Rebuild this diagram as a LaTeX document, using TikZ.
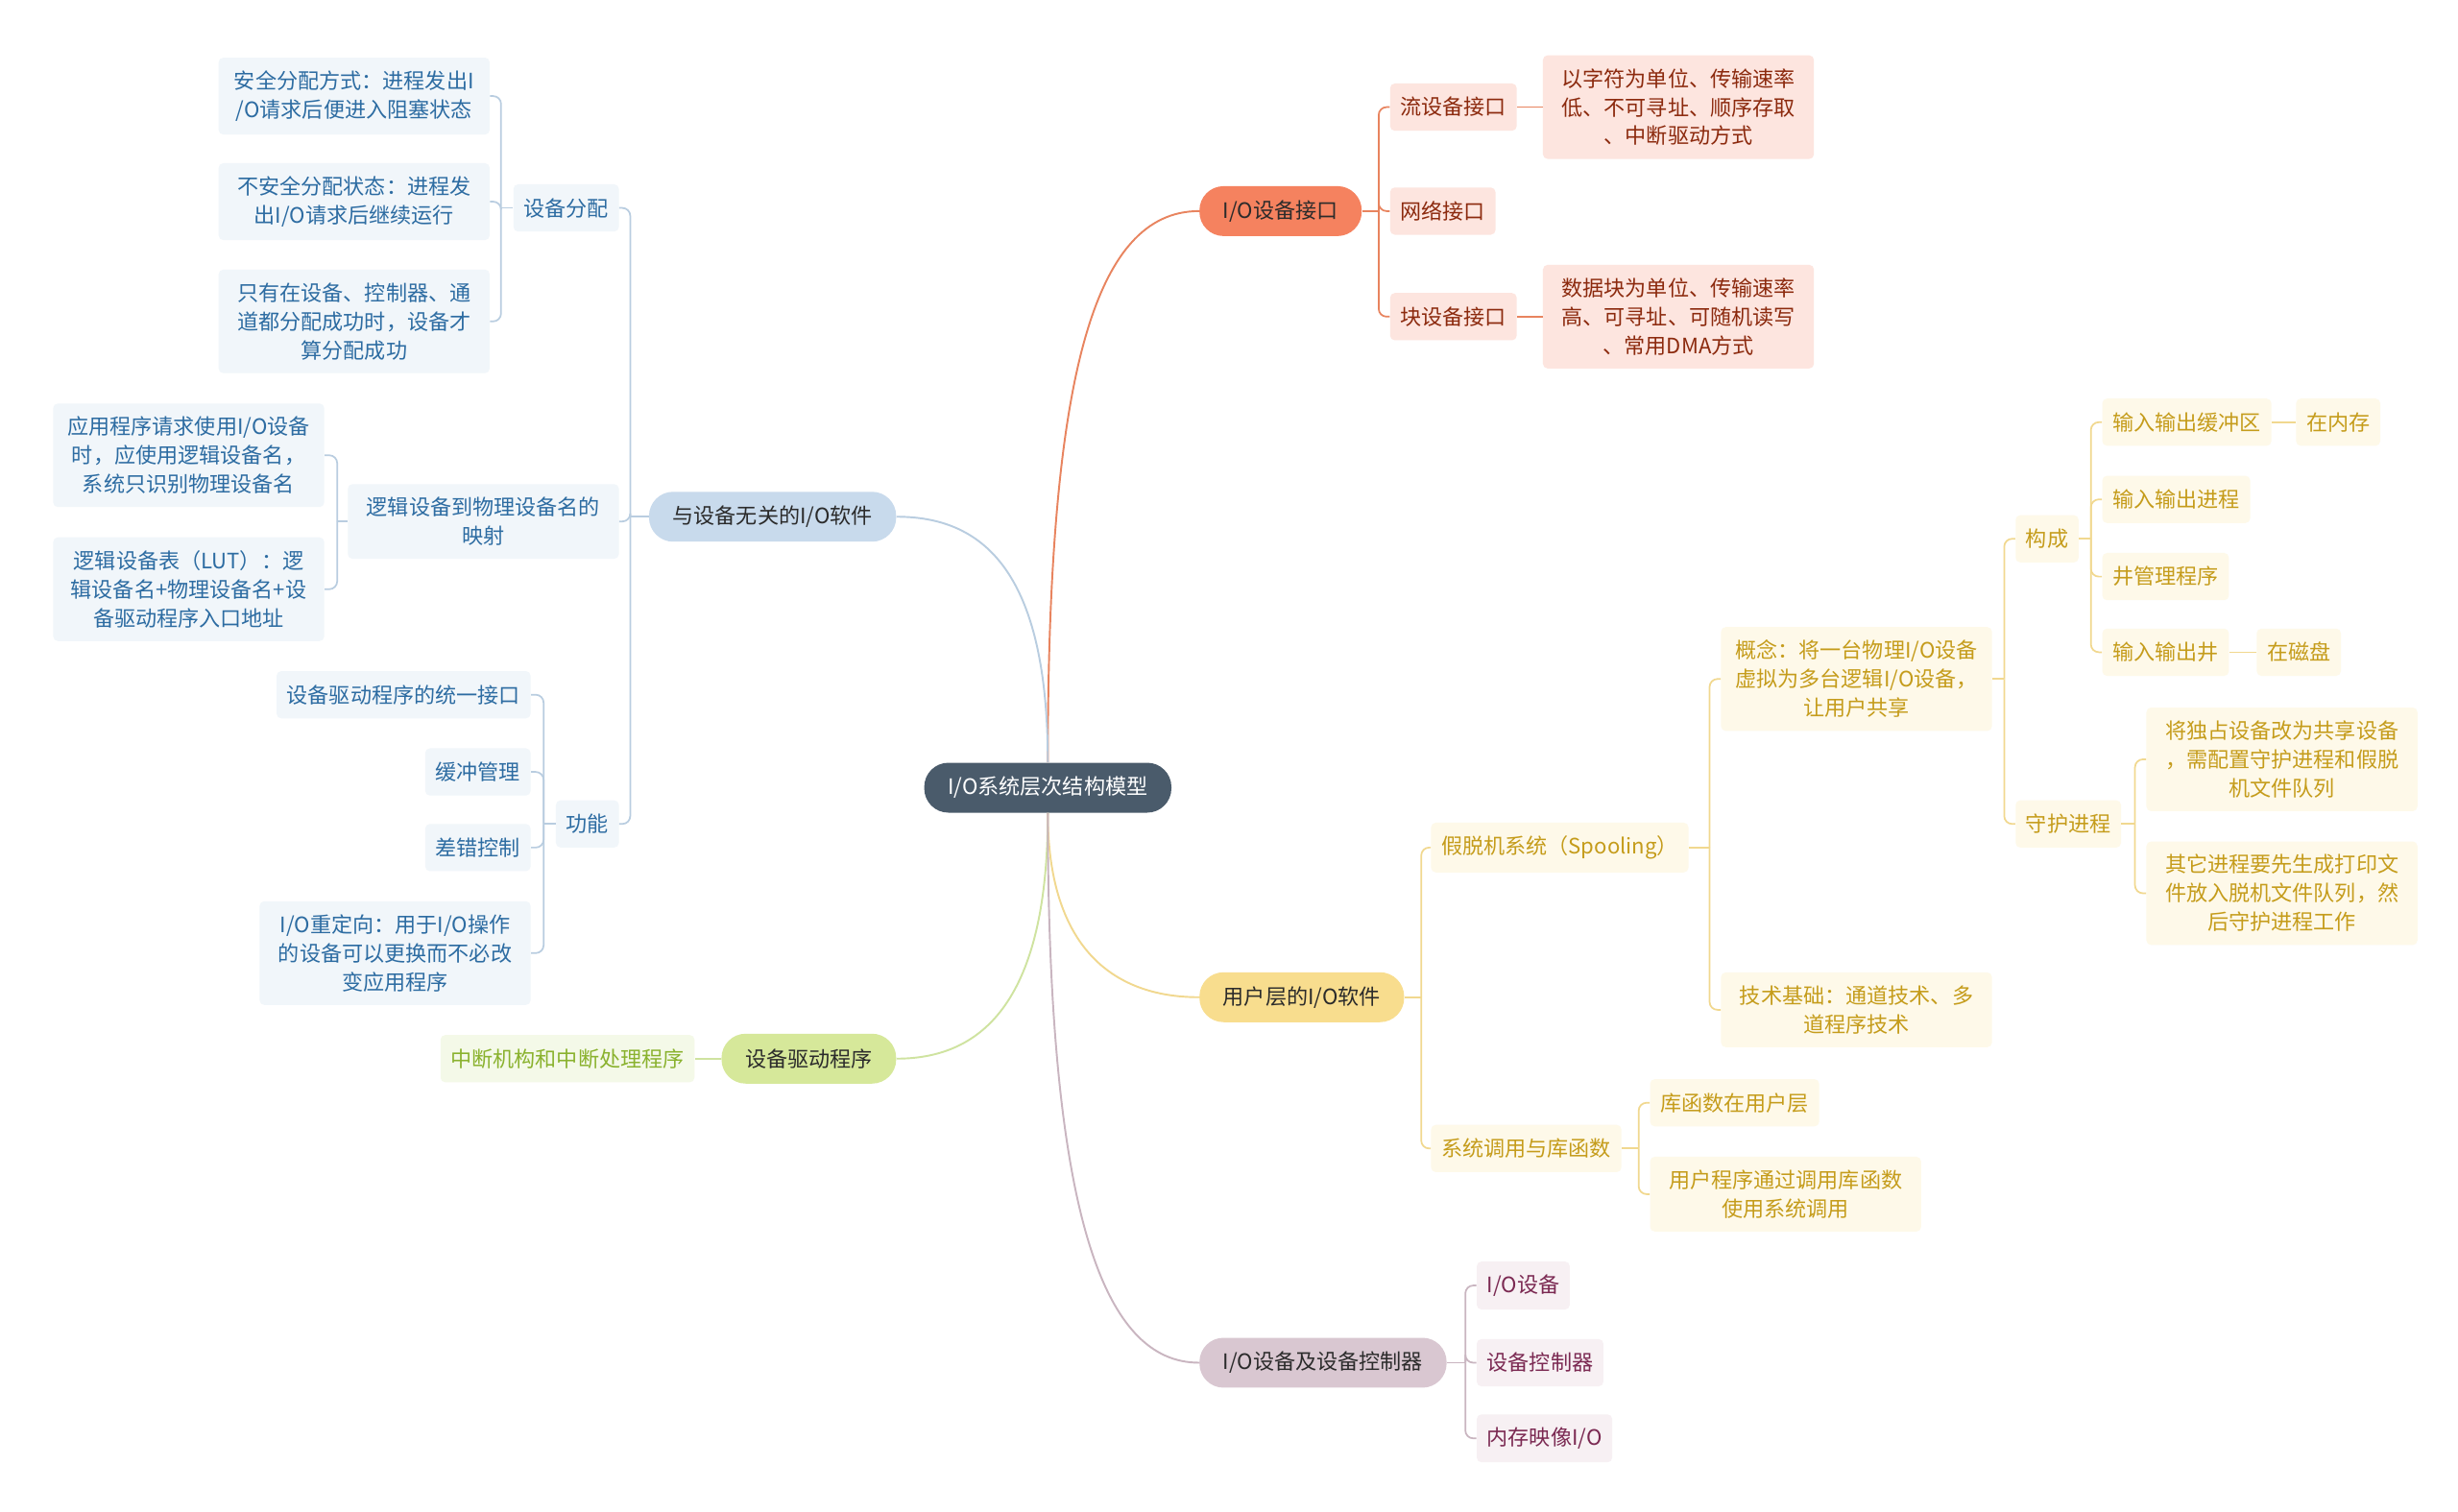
\documentclass[tikz,border=0pt]{standalone}
\usepackage{fontspec}
\setmainfont{Noto Sans CJK SC}

\definecolor{rootc}{HTML}{4A5B6B}
\definecolor{topdark}{HTML}{2B2B2B}
\definecolor{orgtop}{HTML}{F5825F}
\definecolor{orgline}{HTML}{E8845F}
\definecolor{orgfill}{HTML}{FDE5DF}
\definecolor{orgtext}{HTML}{8C2A0E}
\definecolor{blutop}{HTML}{C8DAEC}
\definecolor{bluline}{HTML}{B9CDE0}
\definecolor{blufill}{HTML}{F1F6FA}
\definecolor{blutext}{HTML}{2D6CA2}
\definecolor{grntop}{HTML}{D6E89A}
\definecolor{grnline}{HTML}{CFE3A0}
\definecolor{grnfill}{HTML}{F4F9E8}
\definecolor{grntext}{HTML}{8AB22E}
\definecolor{yeltop}{HTML}{F8DD8E}
\definecolor{yelline}{HTML}{F1D88F}
\definecolor{yelfill}{HTML}{FEF9E9}
\definecolor{yeltext}{HTML}{C59C1B}
\definecolor{mautop}{HTML}{D9C7D1}
\definecolor{mauline}{HTML}{C9B5C0}
\definecolor{maufill}{HTML}{F7F0F3}
\definecolor{mautext}{HTML}{7B2952}

\tikzset{
  rootbox/.style={fill=rootc,text=white,rounded corners=0.46cm,inner xsep=0.45cm,inner ysep=0.25cm,minimum height=0.95cm},
  topbox/.style={text=topdark,rounded corners=0.46cm,inner xsep=0.45cm,inner ysep=0.25cm,minimum height=0.95cm},
  subbox/.style={rounded corners=0.09cm,inner xsep=0.195cm,inner ysep=0.25cm,minimum height=0.9cm,align=center},
  wrapbox/.style={subbox,text width=4.77cm},
  orgbox/.style={fill=orgfill,text=orgtext},
  blubox/.style={fill=blufill,text=blutext},
  grnbox/.style={fill=grnfill,text=grntext},
  yelbox/.style={fill=yelfill,text=yeltext},
  maubox/.style={fill=maufill,text=mautext},
  mainlink/.style={line width=1pt},
  sublink/.style={line width=0.9pt,rounded corners=0.15cm}
}

\begin{document}
\begin{tikzpicture}[x=0.03cm,y=-0.03cm,font=\fontsize{11.5}{15.6}\selectfont]
\path[fill=white] (0,0) rectangle (1560,959.2);
\useasboundingbox (0,0) rectangle (1560,959.2);

% root and main branches
\node[rootbox] (root) at (665,500) {I/O系统层次结构模型};
\node[topbox,fill=orgtop,anchor=west] (intf) at (761,134) {I/O设备接口};
\node[topbox,fill=blutop,anchor=east] (indep) at (569,328) {与设备无关的I/O软件};
\node[topbox,fill=grntop,anchor=east] (driver) at (569,672) {设备驱动程序};
\node[topbox,fill=yeltop,anchor=west] (user) at (761,633) {用户层的I/O软件};
\node[topbox,fill=mautop,anchor=west] (ctrl) at (761,865) {I/O设备及设备控制器};

\draw[mainlink,orgline] (root.north) .. controls (665,240) and (694,134) .. (intf.west);
\draw[mainlink,bluline] (root.north) .. controls (665,360) and (622,328) .. (indep.east);
\draw[mainlink,grnline] (root.south) .. controls (665,640) and (620,672) .. (driver.east);
\draw[mainlink,yelline] (root.south) .. controls (665,600) and (705,633) .. (user.west);
\draw[mainlink,mauline] (root.south) .. controls (665,770) and (700,865) .. (ctrl.west);

% I/O设备接口
\node[subbox,orgbox,anchor=west] (stream) at (882,68) {流设备接口};
\node[subbox,orgbox,anchor=west] (net) at (882,134) {网络接口};
\node[subbox,orgbox,anchor=west] (block) at (882,201) {块设备接口};
\node[wrapbox,orgbox,anchor=west] (streamdesc) at (979,68) {以字符为单位、传输速率\\低、不可寻址、顺序存取\\、中断驱动方式};
\node[wrapbox,orgbox,anchor=west] (blockdesc) at (979,201) {数据块为单位、传输速率\\高、可寻址、可随机读写\\、常用DMA方式};
\coordinate (intfj) at (875,134);
\draw[sublink,orgline] (intf.east) -- (intfj);
\draw[sublink,orgline] (intfj) |- (stream.west);
\draw[sublink,orgline] (intfj) |- (net.west);
\draw[sublink,orgline] (intfj) |- (block.west);
\draw[sublink,orgline] (stream.east) -- (streamdesc.west);
\draw[sublink,orgline] (block.east) -- (blockdesc.west);

% 与设备无关的I/O软件
\node[subbox,blubox,anchor=east] (alloc) at (393,132) {设备分配};
\node[wrapbox,blubox,anchor=east] (mapping) at (393,331) {逻辑设备到物理设备名的\\映射};
\node[subbox,blubox,anchor=east] (func) at (393,523) {功能};
\coordinate (indepj) at (400,328);
\draw[sublink,bluline] (indep.west) -- (indepj);
\draw[sublink,bluline] (indepj) |- (alloc.east);
\draw[sublink,bluline] (indepj) |- (mapping.east);
\draw[sublink,bluline] (indepj) |- (func.east);

\node[wrapbox,blubox,anchor=east] (alloc1) at (311,61) {安全分配方式：进程发出I\\/O请求后便进入阻塞状态};
\node[wrapbox,blubox,anchor=east] (alloc2) at (311,128) {不安全分配状态：进程发\\出I/O请求后继续运行};
\node[wrapbox,blubox,anchor=east] (alloc3) at (311,204) {只有在设备、控制器、通\\道都分配成功时，设备才\\算分配成功};
\coordinate (allocj) at (318,132);
\draw[sublink,bluline] (alloc.west) -- (allocj);
\draw[sublink,bluline] (allocj) |- (alloc1.east);
\draw[sublink,bluline] (allocj) |- (alloc2.east);
\draw[sublink,bluline] (allocj) |- (alloc3.east);

\node[wrapbox,blubox,anchor=east] (map1) at (206,289) {应用程序请求使用I/O设备\\时，应使用逻辑设备名，\\系统只识别物理设备名};
\node[wrapbox,blubox,anchor=east] (map2) at (206,374) {逻辑设备表（LUT）：逻\\辑设备名+物理设备名+设\\备驱动程序入口地址};
\coordinate (mapj) at (214,331);
\draw[sublink,bluline] (mapping.west) -- (mapj);
\draw[sublink,bluline] (mapj) |- (map1.east);
\draw[sublink,bluline] (mapj) |- (map2.east);

\node[subbox,blubox,anchor=east] (func1) at (337,441) {设备驱动程序的统一接口};
\node[subbox,blubox,anchor=east] (func2) at (337,490) {缓冲管理};
\node[subbox,blubox,anchor=east] (func3) at (337,538) {差错控制};
\node[wrapbox,blubox,anchor=east] (func4) at (337,605) {I/O重定向：用于I/O操作\\的设备可以更换而不必改\\变应用程序};
\coordinate (funcj) at (345,523);
\draw[sublink,bluline] (func.west) -- (funcj);
\draw[sublink,bluline] (funcj) |- (func1.east);
\draw[sublink,bluline] (funcj) |- (func2.east);
\draw[sublink,bluline] (funcj) |- (func3.east);
\draw[sublink,bluline] (funcj) |- (func4.east);

% 设备驱动程序
\node[subbox,grnbox,anchor=east] (irq) at (441,672) {中断机构和中断处理程序};
\draw[sublink,grnline] (driver.west) -- (irq.east);

% 用户层的I/O软件
\node[subbox,yelbox,anchor=west] (spool) at (908,538) {假脱机系统（Spooling）};
\node[subbox,yelbox,anchor=west] (syscall) at (908,729) {系统调用与库函数};
\coordinate (userj) at (902,633);
\draw[sublink,yelline] (user.east) -- (userj);
\draw[sublink,yelline] (userj) |- (spool.west);
\draw[sublink,yelline] (userj) |- (syscall.west);

\node[wrapbox,yelbox,anchor=west] (concept) at (1092,431) {概念：将一台物理I/O设备\\虚拟为多台逻辑I/O设备，\\让用户共享};
\node[wrapbox,yelbox,anchor=west] (techbase) at (1092,641) {技术基础：通道技术、多\\道程序技术};
\coordinate (spoolj) at (1085,538);
\draw[sublink,yelline] (spool.east) -- (spoolj);
\draw[sublink,yelline] (spoolj) |- (concept.west);
\draw[sublink,yelline] (spoolj) |- (techbase.west);

\node[subbox,yelbox,anchor=west] (compose) at (1279,342) {构成};
\node[subbox,yelbox,anchor=west] (daemon) at (1279,523) {守护进程};
\coordinate (conceptj) at (1272,431);
\draw[sublink,yelline] (concept.east) -- (conceptj);
\draw[sublink,yelline] (conceptj) |- (compose.west);
\draw[sublink,yelline] (conceptj) |- (daemon.west);

\node[subbox,yelbox,anchor=west] (buf) at (1334,268) {输入输出缓冲区};
\node[subbox,yelbox,anchor=west] (proc) at (1334,317) {输入输出进程};
\node[subbox,yelbox,anchor=west] (wellmgr) at (1334,366) {井管理程序};
\node[subbox,yelbox,anchor=west] (well) at (1334,414) {输入输出井};
\node[subbox,yelbox,anchor=west] (inmem) at (1457,268) {在内存};
\node[subbox,yelbox,anchor=west] (ondisk) at (1432,414) {在磁盘};
\coordinate (composej) at (1327,342);
\draw[sublink,yelline] (compose.east) -- (composej);
\draw[sublink,yelline] (composej) |- (buf.west);
\draw[sublink,yelline] (composej) |- (proc.west);
\draw[sublink,yelline] (composej) |- (wellmgr.west);
\draw[sublink,yelline] (composej) |- (well.west);
\draw[sublink,yelline] (buf.east) -- (inmem.west);
\draw[sublink,yelline] (well.east) -- (ondisk.west);

\node[wrapbox,yelbox,anchor=west] (daemon1) at (1362,482) {将独占设备改为共享设备\\，需配置守护进程和假脱\\机文件队列};
\node[wrapbox,yelbox,anchor=west] (daemon2) at (1362,567) {其它进程要先生成打印文\\件放入脱机文件队列，然\\后守护进程工作};
\coordinate (daemonj) at (1355,523);
\draw[sublink,yelline] (daemon.east) -- (daemonj);
\draw[sublink,yelline] (daemonj) |- (daemon1.west);
\draw[sublink,yelline] (daemonj) |- (daemon2.west);

\node[subbox,yelbox,anchor=west] (lib) at (1047,700) {库函数在用户层};
\node[wrapbox,yelbox,anchor=west] (usercall) at (1047,758) {用户程序通过调用库函数\\使用系统调用};
\coordinate (syscallj) at (1040,729);
\draw[sublink,yelline] (syscall.east) -- (syscallj);
\draw[sublink,yelline] (syscallj) |- (lib.west);
\draw[sublink,yelline] (syscallj) |- (usercall.west);

% I/O设备及设备控制器
\node[subbox,maubox,anchor=west] (iodev) at (937,816) {I/O设备};
\node[subbox,maubox,anchor=west] (devctrl) at (937,865) {设备控制器};
\node[subbox,maubox,anchor=west] (mmio) at (937,913) {内存映像I/O};
\coordinate (ctrlj) at (930,865);
\draw[sublink,mauline] (ctrl.east) -- (ctrlj);
\draw[sublink,mauline] (ctrlj) |- (iodev.west);
\draw[sublink,mauline] (ctrlj) |- (devctrl.west);
\draw[sublink,mauline] (ctrlj) |- (mmio.west);

\end{tikzpicture}
\end{document}
